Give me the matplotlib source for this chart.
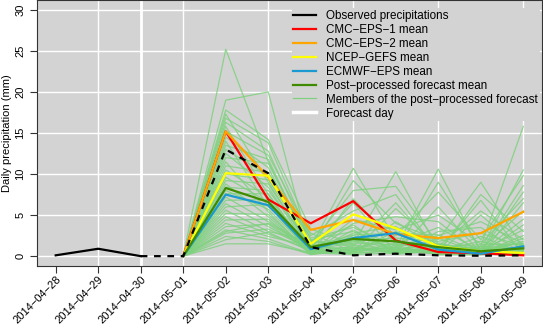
import matplotlib
matplotlib.use("Agg")
import matplotlib.pyplot as plt
import numpy as np

plt.rcParams['font.family'] = ['Liberation Sans', 'DejaVu Sans']

dates = ["2014-04-28", "2014-04-29", "2014-04-30", "2014-05-01", "2014-05-02",
         "2014-05-03", "2014-05-04", "2014-05-05", "2014-05-06", "2014-05-07",
         "2014-05-08", "2014-05-09"]

# observed: first three days solid, rest dashed
obs_past = [0.1, 0.9, 0.0]
obs_fcst = [0.0, 0.0, 13.0, 10.1, 1.1, 0.1, 0.3, 0.1, 0.05, 0.1]

# forecast means, 2014-05-01 .. 2014-05-09
cmc1 = [0.0, 15.2, 6.9, 4.0, 6.7, 1.9, 0.5, 0.35, 0.1]
cmc2 = [0.0, 15.2, 9.6, 3.2, 4.4, 2.7, 2.2, 2.8, 5.4]
ncep = [0.0, 10.1, 9.8, 1.5, 5.1, 3.4, 1.2, 0.6, 0.4]
ecmwf = [0.0, 7.5, 6.2, 0.85, 2.2, 2.8, 0.8, 0.3, 1.2]
post_mean = [0.0, 8.3, 6.6, 1.1, 2.1, 1.8, 1.1, 0.6, 0.95]

# post-processed members, 2014-05-02 .. 2014-05-09 (start at 0 on 05-01)
members = [
    [25.2, 11.5, 1.2, 10.7, 2.0, 0.5, 0.3, 0.8],
    [19.0, 20.0, 0.4, 2.5, 1.0, 10.6, 0.5, 0.4],
    [17.8, 14.2, 3.3, 1.5, 10.3, 0.8, 1.2, 15.8],
    [17.3, 9.0, 0.8, 9.2, 4.0, 2.0, 9.0, 1.0],
    [16.8, 13.8, 2.0, 3.0, 0.6, 9.0, 0.8, 10.5],
    [16.3, 12.8, 1.5, 8.0, 8.5, 1.5, 0.3, 0.5],
    [15.8, 7.5, 0.6, 0.8, 2.5, 7.8, 2.0, 9.8],
    [15.2, 12.3, 2.5, 5.5, 7.5, 0.4, 7.5, 3.0],
    [14.5, 10.8, 0.3, 7.0, 1.5, 3.5, 0.6, 8.6],
    [14.0, 6.0, 1.8, 1.2, 6.5, 0.6, 6.8, 0.2],
    [13.5, 11.8, 0.9, 6.5, 0.4, 6.0, 0.4, 7.8],
    [13.0, 9.8, 2.8, 0.5, 5.8, 1.2, 5.5, 2.0],
    [12.5, 8.4, 0.5, 4.5, 3.2, 5.0, 1.5, 7.0],
    [12.0, 11.3, 1.3, 2.0, 0.8, 0.3, 5.0, 0.6],
    [11.5, 5.4, 0.2, 4.0, 4.8, 4.2, 0.2, 6.5],
    [11.0, 10.2, 2.2, 3.5, 1.2, 2.5, 4.2, 1.5],
    [10.5, 7.2, 0.7, 0.3, 4.2, 0.9, 0.9, 5.5],
    [10.0, 9.3, 1.6, 3.8, 0.3, 3.0, 3.5, 0.3],
    [9.6, 6.6, 0.4, 2.8, 3.6, 0.2, 0.5, 4.5],
    [9.2, 8.8, 1.0, 1.8, 2.2, 1.8, 2.8, 1.2],
    [8.8, 4.8, 0.3, 3.2, 0.5, 2.2, 0.3, 3.8],
    [8.4, 8.0, 1.4, 0.6, 3.0, 0.7, 1.8, 0.7],
    [8.0, 5.7, 0.6, 2.2, 1.8, 1.4, 0.7, 3.2],
    [7.6, 7.6, 0.2, 1.0, 0.9, 0.5, 2.4, 0.4],
    [7.2, 4.2, 1.1, 2.6, 2.8, 2.6, 0.4, 2.5],
    [6.8, 6.9, 0.5, 0.4, 0.6, 0.3, 1.2, 0.9],
    [6.4, 3.6, 0.8, 1.6, 1.4, 1.0, 0.2, 2.2],
    [6.0, 6.3, 0.3, 0.9, 2.0, 0.4, 1.0, 0.3],
    [5.6, 3.0, 1.9, 1.4, 0.7, 1.6, 0.6, 1.8],
    [5.2, 5.1, 0.4, 0.5, 1.6, 0.6, 0.3, 0.6],
    [4.8, 2.7, 0.7, 1.1, 0.4, 1.1, 1.4, 1.4],
    [4.4, 4.5, 0.2, 0.7, 1.1, 0.3, 0.4, 0.2],
    [4.0, 2.4, 1.2, 1.9, 0.3, 0.8, 0.8, 1.1],
    [3.6, 3.9, 0.5, 0.4, 1.3, 0.2, 0.2, 0.5],
    [3.2, 2.1, 0.3, 0.8, 0.5, 1.3, 0.5, 0.9],
    [2.8, 3.3, 0.9, 0.3, 0.8, 0.4, 0.3, 0.3],
    [2.4, 1.8, 0.2, 1.3, 0.2, 0.7, 0.9, 1.6],
    [2.0, 2.9, 0.6, 0.6, 1.0, 0.2, 0.2, 0.4],
    [1.5, 1.5, 0.4, 0.2, 0.4, 0.5, 0.6, 0.8],
    [3.0, 4.0, 1.0, 1.0, 0.6, 0.9, 0.3, 0.3],
]

labels = ["Observed precipitations", "CMC-EPS-1 mean", "CMC-EPS-2 mean",
          "NCEP-GEFS mean", "ECMWF-EPS mean", "Post-processed forecast mean",
          "Members of the post-processed forecast", "Forecast day"]

x = np.arange(1, len(dates) + 1)
xf = x[3:]

fig = plt.figure(figsize=(5.43, 3.27), dpi=100)
ax = fig.add_axes([37 / 543, 1 - 266 / 327, 505 / 543, 266 / 327])
ax.set_facecolor("#d3d3d3")

for yv in range(0, 31, 5):
    ax.axhline(yv, color="white", lw=1, zorder=0)
for xv in x[1::2]:
    ax.axvline(xv, color="white", lw=1, zorder=0)
ax.axvline(x[2], color="white", lw=2, zorder=1)

for m in members:
    ax.plot(xf, [0.0] + m, color="#7fd17f", lw=0.9, alpha=0.85, zorder=2)

ax.plot(xf, cmc1, color="#ff0000", lw=1.6, zorder=3)
ax.plot(xf, cmc2, color="#ffa500", lw=1.6, zorder=3)
ax.plot(xf, ncep, color="#ffff00", lw=1.6, zorder=3)
ax.plot(xf, ecmwf, color="#1a9ad0", lw=1.6, zorder=3)
ax.plot(xf, post_mean, color="#3f8b00", lw=1.6, zorder=3)
ax.plot(x[:3], obs_past, color="black", lw=1.6, zorder=4)
ax.plot(x[2:], obs_fcst, color="black", lw=1.6, ls=(0, (3, 3)), zorder=4)

ax.set_xlim(1 - 0.44, 12 + 0.44)
ax.set_ylim(-1.2, 31.2)
ax.set_xticks(x)
ax.set_xticklabels([d.replace("-", "\u2212") for d in dates], rotation=45,
                   ha="right", rotation_mode="anchor", fontsize=8)
ax.set_yticks(range(0, 31, 5))
ax.set_yticklabels([str(v) for v in range(0, 31, 5)], rotation=90,
                   va="center", fontsize=8)
ax.tick_params(length=5, width=0.8, color="#333333")
ax.tick_params(axis="x", pad=1)
ax.set_ylabel("Daily precipitation (mm)", fontsize=8, labelpad=2)
for s in ax.spines.values():
    s.set_color("#333333")
    s.set_linewidth(0.8)

cols = ["black", "#ff0000", "#ffa500", "#ffff00", "#1a9ad0", "#3f8b00", "#7fd17f", "white"]
lws = [1.6, 1.6, 1.6, 1.6, 1.6, 1.6, 0.9, 2.5]
handles = [plt.Line2D([], [], color=c, lw=w) for c, w in zip(cols, lws)]
leg = ax.legend(handles, [l.replace("-", "\u2212") for l in labels], loc="upper left",
                bbox_to_anchor=(0.504, 0.970), frameon=True, fontsize=8.35,
                handlelength=2.0, handletextpad=0.85, labelspacing=0.17,
                borderpad=0.15, borderaxespad=0, fancybox=False)
leg.get_frame().set_facecolor("#d3d3d3")
leg.get_frame().set_edgecolor("none")
leg.get_frame().set_alpha(1)
leg.set_zorder(5)

fig.savefig("out.png", dpi=100)
